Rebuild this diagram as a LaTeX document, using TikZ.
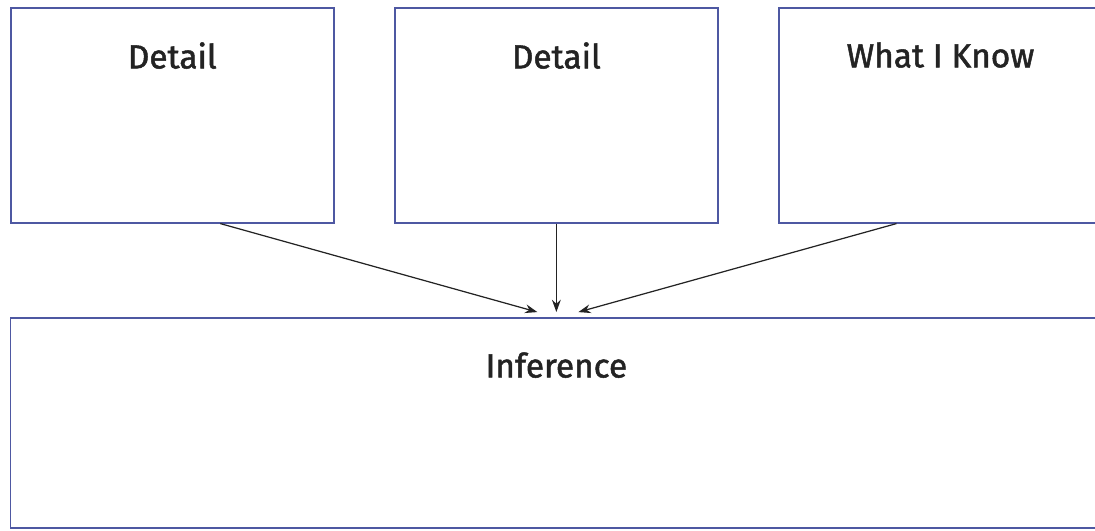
\documentclass[tikz,border=0pt]{standalone}
\usepackage{fontspec}
\setmainfont{Fira Sans}[FakeBold=1.5]
\definecolor{boxblue}{RGB}{78, 88, 162}
\definecolor{inkgray}{RGB}{35, 35, 35}
\usetikzlibrary{arrows.meta, positioning, calc}

\begin{document}
\begin{tikzpicture}[>={Stealth[length=7pt, width=5pt]}, node distance=1.19cm, every node/.style={font=\fontsize{19}{22}\selectfont, text=inkgray}]
        \useasboundingbox (0,0) rectangle (21.9,-10.62);
        \clip (0,0) rectangle (21.9,-10.62);
        \tikzset{
          topbox/.style={draw=boxblue, line width=0.9pt, rectangle, minimum width=6.46cm, minimum height=4.3cm},
          toplabel/.style={label={[anchor=north, inner sep=0pt, yshift=-0.7cm]north:#1}}
        }
        \node[topbox, anchor=north west, toplabel=Detail] (detailA) at (0.2,-0.14) {};
        \node[topbox, right=of detailA, toplabel=Detail] (detailB) {};
        \node[topbox, right=of detailB, toplabel=What I Know] (know) {};
        \node[topbox, below=1.87cm of detailB, minimum width=21.84cm, minimum height=4.2cm, toplabel=Inference] (inference) {};
        \draw[->, inkgray, line width=0.7pt] ([xshift=0.96cm]detailA.south) -- ([xshift=-0.38cm, yshift=0.1cm]inference.north);
        \draw[->, inkgray, line width=0.7pt] (detailB.south) -- ([yshift=0.1cm]inference.north);
        \draw[->, inkgray, line width=0.7pt] ([xshift=-0.88cm]know.south) -- ([xshift=0.44cm, yshift=0.1cm]inference.north);
      \end{tikzpicture}
\end{document}
